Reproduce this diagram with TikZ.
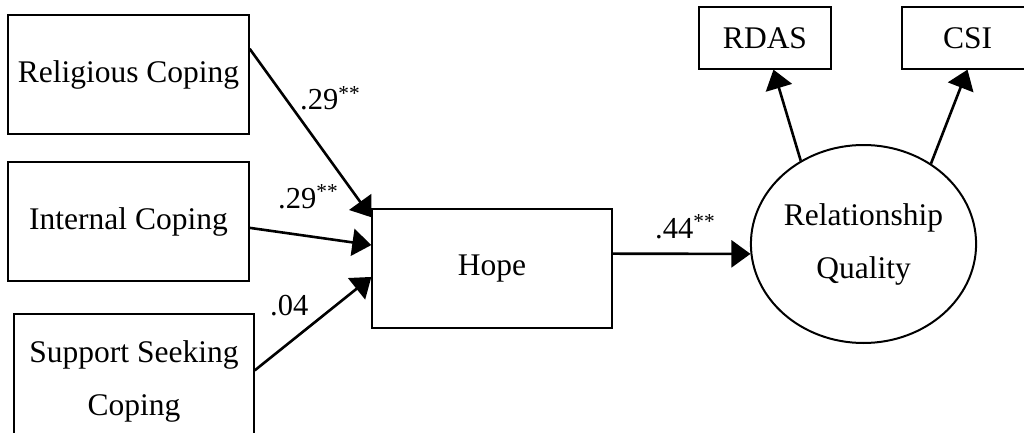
\documentclass[tikz,border=0pt]{standalone}
\usepackage{fontspec}
\setmainfont{Liberation Serif}
\usetikzlibrary{arrows.meta,shapes.geometric}

\begin{document}
\begin{tikzpicture}[x=1pt,y=-1pt,
  every node/.style={font=\fontsize{31.5}{53}\selectfont},
  varbox/.style={draw,line width=1.3pt,rectangle,inner sep=0pt,align=center},
  latent/.style={draw,line width=2pt,ellipse,inner sep=0pt,minimum width=221pt,minimum height=198pt,align=center},
  path/.style={line width=2.6pt,-{Triangle[length=19pt,width=27pt]}},
  coef/.style={anchor=base west,inner sep=0pt,font=\fontsize{30.5}{36}\selectfont}
]
\clip (0,0) rectangle (1024,433);

% observed predictors
\node[varbox,minimum width=241pt,minimum height=119pt] (rel) at (128.5,74.5) {Religious Coping};
\node[varbox,minimum width=241pt,minimum height=119pt] (int) at (128.5,221.5) {Internal Coping};
\node[varbox,minimum width=240pt,minimum height=134pt] (sup) at (134,381) {Support Seeking\\Coping};

% mediator
\node[varbox,minimum width=240pt,minimum height=119pt] (hope) at (492,268.5) {Hope};

% latent outcome and its indicators
\node[latent] (rq) at (863.5,244) {Relationship\\Quality};
\node[varbox,minimum width=132pt,minimum height=62pt] (rdas) at (765,38) {RDAS};
\node[varbox,minimum width=131pt,minimum height=62pt] (csi) at (967.5,38) {CSI};

% structural paths
\draw[path] (rel.12.4) -- (hope.157);
\draw[path] (int.-3.6) -- (hope.169);
\draw[path] (sup.5.2) -- (hope.-176);
\draw[path] (hope.7.4) -- (rq.185);

% measurement paths
\draw[path] (rq.127) -- (rdas.-75.5);
\draw[path] (rq.50) -- (csi.south);

% path coefficients
\node[coef] (c1) at (300,110) {.29\textsuperscript{**}};
\node[coef] (c2) at (278,208) {.29\textsuperscript{**}};
\node[coef] (c3) at (270,315) {.04};
\node[coef] (c4) at (655,238) {.44\textsuperscript{**}};
\end{tikzpicture}
\end{document}
